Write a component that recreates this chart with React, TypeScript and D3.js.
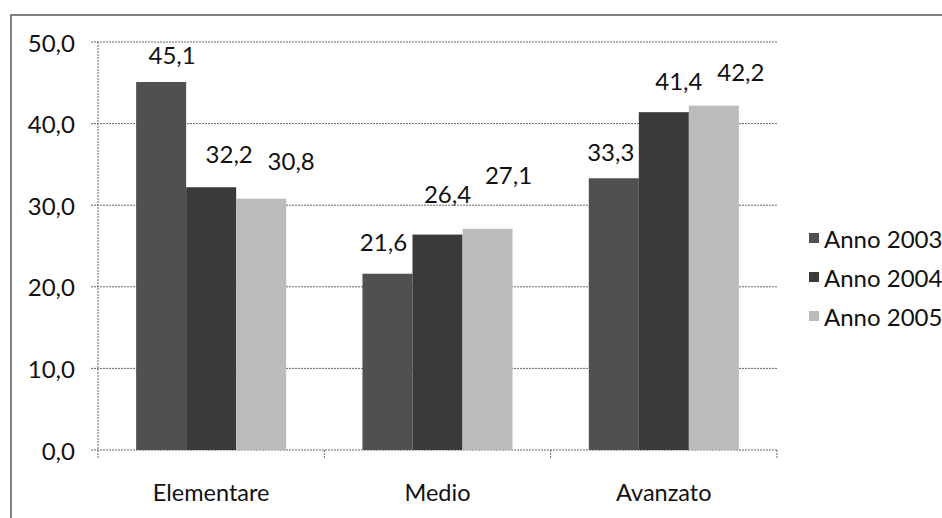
import React from "react";
import * as d3 from "d3";

const categories = ["Elementare", "Medio", "Avanzato"];
const seriesNames = ["Anno 2003", "Anno 2004", "Anno 2005"];
const anno2003 = [45.1, 21.6, 33.3];
const anno2004 = [32.2, 26.4, 41.4];
const anno2005 = [30.8, 27.1, 42.2];
const yTicks = [0, 10, 20, 30, 40, 50];

// layout-only nudges of the value labels (dx, dy from bar centre / top)
const labelNudgeX = [[11, 18, 30], [-4, 10, 21], [-3, 15, 27]];
const labelNudgeY = [[-27, -34, -38], [-32, -41, -54], [-27, -32, -34]];

const colors = ["#505050", "#3a3a3a", "#bcbcbc"];
const FONT = "Lato, 'Open Sans', sans-serif";

export default function App() {
  const W = 942, H = 518;
  const left = 98, right = 777, top = 42, bottom = 450;
  const values = [anno2003, anno2004, anno2005];
  const fmt = (v: number) => d3.format(".1f")(v).replace(".", ",");

  const x0 = d3.scaleBand<string>().domain(categories).range([left, right]).padding(0);
  const groupW = x0.bandwidth() * 0.663;
  const x1 = d3.scaleBand<string>().domain(seriesNames).range([0, groupW]).padding(0);
  const y = d3.scaleLinear().domain([0, 50]).range([bottom, top]);

  const xBoundaries = [...categories.map((c) => x0(c) as number), right];

  return (
    <svg width={W} height={H} style={{ position: "absolute", left: 0, top: 0, background: "#fff" }}>
      <rect x={11} y={15} width={1100} height={700} fill="none" stroke="#5a5a5a" strokeWidth={1.5} />
      {/* gridlines */}
      {yTicks.map((t) => (
        <line key={"g" + t} x1={91} x2={right} y1={y(t)} y2={y(t)} stroke="#666" strokeWidth={1} strokeDasharray="2,1" />
      ))}
      {/* y axis */}
      <line x1={left} x2={left} y1={top} y2={bottom + 8} stroke="#666" strokeWidth={1} strokeDasharray="2,1" />
      {xBoundaries.slice(1).map((bx, i) => (
        <line key={"xt" + i} x1={bx} x2={bx} y1={bottom} y2={bottom + 8} stroke="#666" strokeWidth={1} strokeDasharray="2,1" />
      ))}
      {yTicks.map((t) => (
        <text key={"yl" + t} x={75} y={y(t)} textAnchor="end" dominantBaseline="central" fontFamily={FONT} fontSize={24} fill="#111">
          {fmt(t)}
        </text>
      ))}
      {/* bars */}
      {categories.map((c, ci) => {
        const gx = (x0(c) as number) + (x0.bandwidth() - groupW) / 2;
        return (
          <g key={c}>
            {seriesNames.map((s, si) => {
              const v = values[si][ci];
              const bx = gx + (x1(s) as number);
              return (
                <rect key={s} x={bx} y={y(v)} width={x1.bandwidth()} height={bottom - y(v)} fill={colors[si]} />
              );
            })}
            {seriesNames.map((s, si) => {
              const v = values[si][ci];
              const bx = gx + (x1(s) as number) + x1.bandwidth() / 2;
              return (
                <text key={"l" + s} x={bx + labelNudgeX[ci][si]} y={y(v) + labelNudgeY[ci][si]} textAnchor="middle" dominantBaseline="central" fontFamily={FONT} fontSize={24} fill="#111">
                  {fmt(v)}
                </text>
              );
            })}
            <text x={(x0(c) as number) + x0.bandwidth() / 2} y={492} textAnchor="middle" dominantBaseline="central" fontFamily={FONT} fontSize={23.5} fill="#111">
              {c}
            </text>
          </g>
        );
      })}
      {/* legend */}
      {seriesNames.map((s, i) => (
        <g key={"lg" + s} transform={`translate(809, ${238 + i * 39})`}>
          <rect x={0} y={-5} width={10} height={10} fill={colors[i]} />
          <text x={15} y={0} dominantBaseline="central" fontFamily={FONT} fontSize={24} fill="#111">
            {s}
          </text>
        </g>
      ))}
    </svg>
  );
}
